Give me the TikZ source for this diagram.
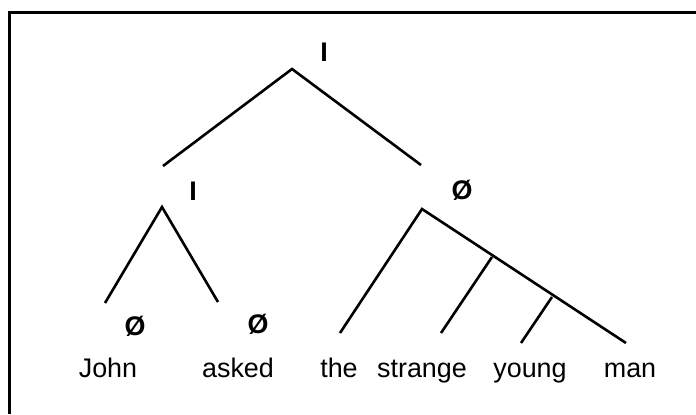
\documentclass[tikz,border=0pt]{standalone}
\usepackage{fontspec}
\setmainfont{Liberation Sans}
\begin{document}
\begin{tikzpicture}[x=1bp,y=-1bp,
  edge/.style={line width=2.6bp},
  word/.style={anchor=base,inner sep=0pt,font=\fontsize{27}{32}\selectfont},
  lab/.style={anchor=base,inner sep=0pt,font=\fontsize{27}{32}\selectfont\bfseries}]
\useasboundingbox (0,0) rectangle (696,414);
\draw[line width=3bp] (9.5,414) -- (9.5,12) -- (696,12);
% labels
\node[lab] (top) at (324,61) {I};
\node[lab] (midI) at (193,200) {I};
\node[lab] (midO) at (462,199) {Ø};
\node[lab] (johnO) at (135,335) {Ø};
\node[lab] (askedO) at (258,333) {Ø};
% words
\node[word] (john) at (108,377) {John};
\node[word] (asked) at (238,377) {asked};
\node[word] (the) at (339,377) {the};
\node[word] (strange) at (422,377) {strange};
\node[word] (young) at (530,377) {young};
\node[word] (man) at (630,377) {man};
% tree coordinates
\coordinate (a0) at (292,69);
\coordinate (a0l) at (163,166);
\coordinate (a0r) at (421,165);
\coordinate (a1) at (162,207);
\coordinate (a1l) at (105,303);
\coordinate (a1r) at (218,302);
\coordinate (a2) at (422,209);
\coordinate (a2the) at (340,333);
\coordinate (a2man) at (626,343);
\coordinate (b1) at (492,257);
\coordinate (b1e) at (441,333);
\coordinate (b2) at (552,297);
\coordinate (b2e) at (521,343);
\draw[edge] (a0l) -- (a0) -- (a0r);
\draw[edge] (a1l) -- (a1) -- (a1r);
\draw[edge] (a2the) -- (a2) -- (a2man);
\draw[edge] (b1) -- (b1e);
\draw[edge] (b2) -- (b2e);
\end{tikzpicture}
\end{document}
